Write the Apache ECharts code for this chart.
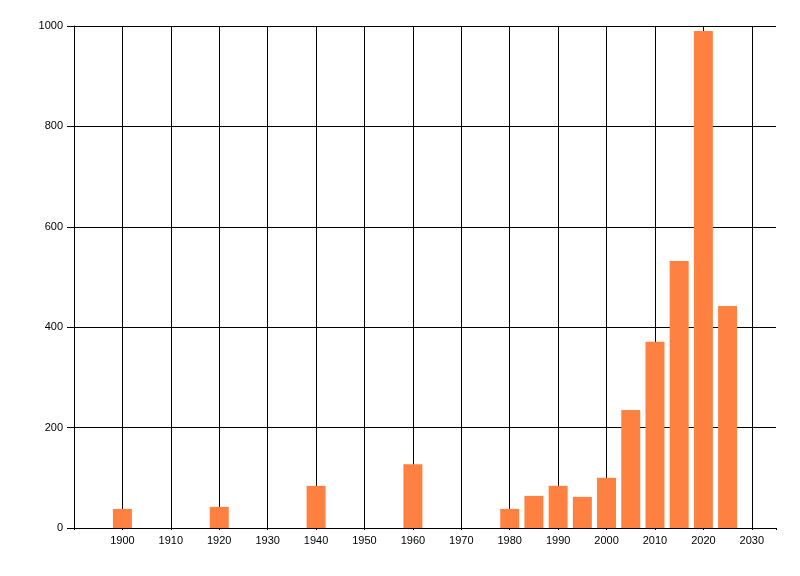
<!DOCTYPE html>
<html>
<head>
<meta charset="utf-8">
<script src="https://cdn.jsdelivr.net/npm/echarts@6/dist/echarts.min.js"></script>
<style>
  html, body { margin: 0; padding: 0; background: #fff; }
  #main { width: 800px; height: 576px; }
</style>
</head>
<body>
<div id="main"></div>
<script>
// years (bar centres) and counts
var years  = [1900, 1920, 1940, 1960, 1980, 1985, 1990, 1995, 2000, 2005, 2010, 2015, 2020, 2025];
var counts = [38, 42, 84, 127, 38, 64, 84, 62, 100, 235, 371, 532, 990, 442];

var pts = [];
for (var i = 0; i < years.length; i++) {
    pts.push([years[i], counts[i]]);
}

var chart = echarts.init(document.getElementById('main'));
var option = {
    animation: false,
    textStyle: { fontFamily: 'Liberation Sans', fontSize: 11, color: '#000' },
    grid: { left: 74, right: 24, top: 26, bottom: 48, containLabel: false },
    xAxis: {
        type: 'value',
        min: 1890,
        max: 2035,
        interval: 10,
        axisLine: { show: true, lineStyle: { color: '#000', width: 1 } },
        axisTick: { show: true, length: 2, lineStyle: { color: '#000' } },
        axisLabel: {
            color: '#000',
            fontSize: 11,
            margin: 7,
            formatter: function (v) {
                if (v <= 1890 || v > 2030) return '';
                return String(v);
            }
        },
        splitLine: { show: true, showMaxLine: false, lineStyle: { color: '#000', width: 1 } }
    },
    yAxis: {
        type: 'value',
        min: 0,
        max: 1000,
        interval: 200,
        axisLine: { show: true, lineStyle: { color: '#000', width: 1 } },
        axisTick: { show: true, length: 7, lineStyle: { color: '#000' } },
        axisLabel: {
            color: '#000',
            fontSize: 11,
            margin: 11,
            formatter: function (v) { return String(v); }
        },
        splitLine: { show: true, lineStyle: { color: '#000', width: 1 } }
    },
    series: [{
        type: 'bar',
        data: pts,
        barWidth: 19,
        itemStyle: { color: '#ff8142' }
    }]
};
chart.setOption(option);
</script>
</body>
</html>
